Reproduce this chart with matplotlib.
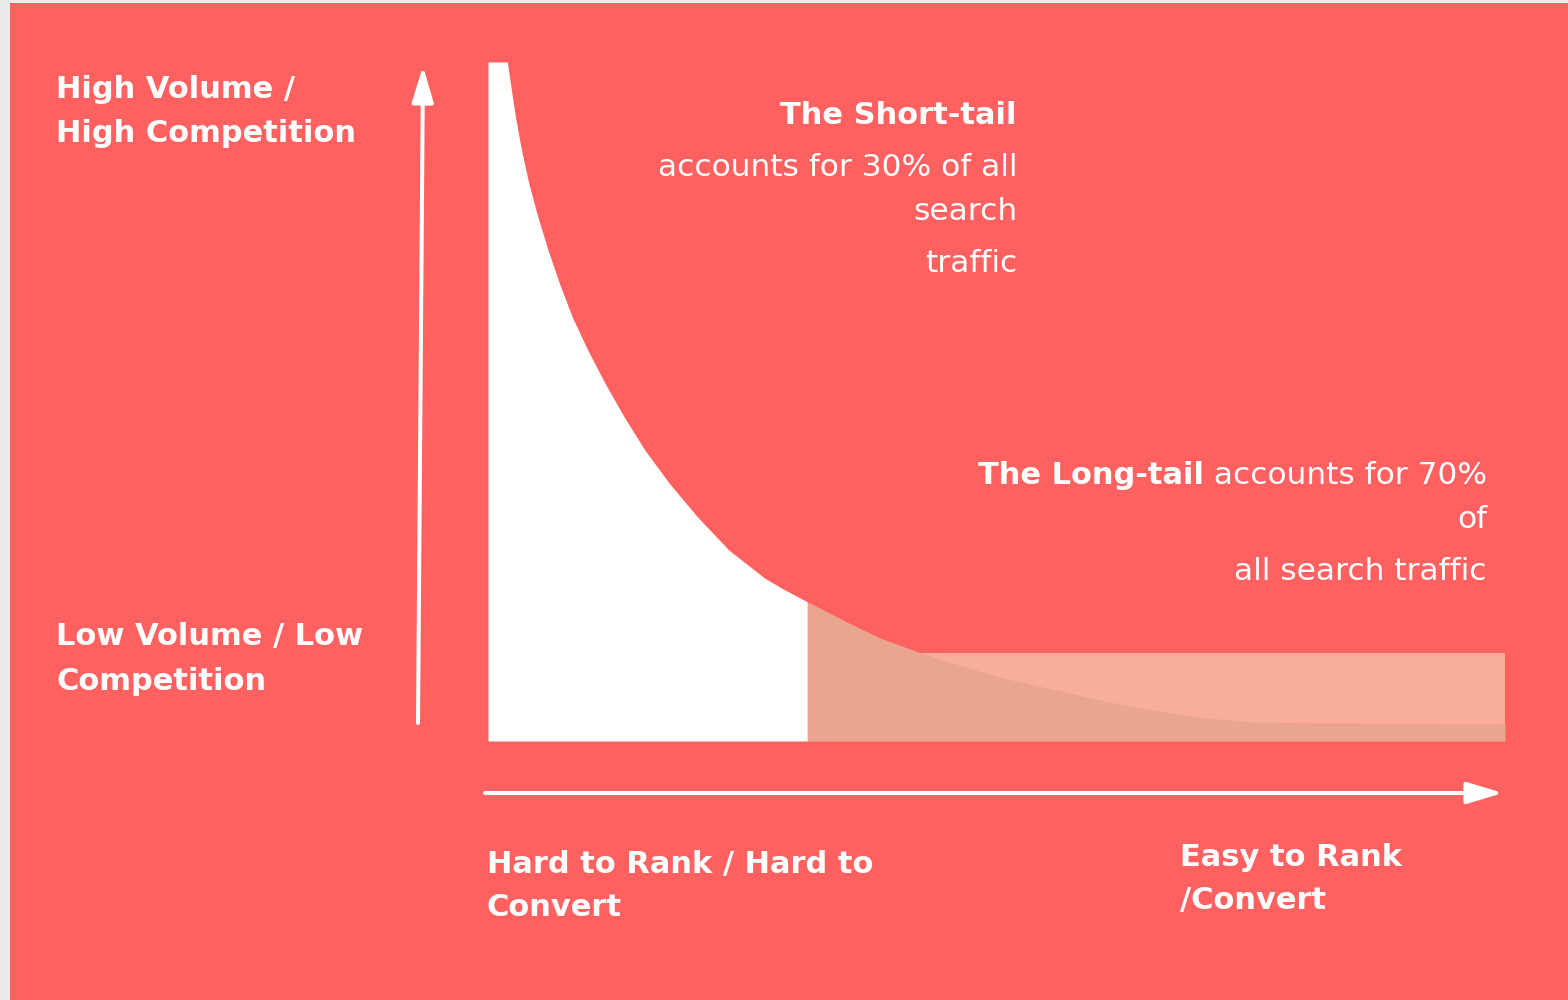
import numpy as np
import matplotlib.pyplot as plt
from matplotlib.patches import Rectangle, FancyArrowPatch

# keyword rank (0 = head, 100 = far tail) vs search volume (0..100)
rank = [0, 1.9, 2.2, 2.7, 3.3, 4.0, 4.9, 5.9, 7.0, 8.3, 9.8, 11.5, 13.4, 15.4,
        17.8, 20.6, 23.7, 27.2, 29.0, 31.4, 35.3, 38.5, 42.5, 45.4, 50.3, 55.3, 60.2,
        65.1, 70.0, 74.9, 79.8, 100]
volume = [100, 100, 96.9, 91.9, 87.0, 82.2, 77.2, 72.3, 67.5, 62.4, 57.6, 52.7, 47.7, 42.9,
          38.0, 33.0, 28.1, 24.0, 22.4, 20.5, 17.5, 15.2, 13.0, 11.6, 9.4, 7.7, 6.0,
          4.6, 3.5, 2.8, 2.7, 2.5]
short_tail_end = 31.4
band_start = 42.5
band_height = 13.0

coral = '#FF6161'
band_light = '#F8AE9A'
tail_fill = '#EAA590'

plt.rcParams['font.family'] = ['DejaVu Sans']

fig = plt.figure(figsize=(15.68, 10), dpi=100, facecolor='#EBEBEB')

# background panel
bg = fig.add_axes([10 / 1568, 0, 1, 997 / 1000])
bg.set_facecolor(coral)
bg.set_xticks([])
bg.set_yticks([])
for s in bg.spines.values():
    s.set_visible(False)

# chart area
ax = fig.add_axes([488 / 1568, 259 / 1000, 1017 / 1568, 679 / 1000])
ax.set_xlim(0, 100)
ax.set_ylim(0, 100)
ax.axis('off')

x = np.array(rank)
y = np.array(volume)
head = x <= short_tail_end
tail = x >= short_tail_end
ax.fill_between(x[head], 0, y[head], color='white', lw=0)
ax.add_patch(Rectangle((band_start, 0), 100 - band_start, band_height, color=band_light, lw=0))
ax.fill_between(x[tail], 0, y[tail], color=tail_fill, lw=0)


def px(xp, yp):
    return xp / 1568, 1 - yp / 1000


# axis arrows
arrow = dict(arrowstyle='-|>,head_length=1.1,head_width=0.33', color='white', lw=2.9,
             mutation_scale=20, shrinkA=0, shrinkB=0, transform=fig.transFigure)
fig.add_artist(FancyArrowPatch(px(418, 723), px(423, 66), **arrow))
fig.add_artist(FancyArrowPatch(px(485, 793), px(1503, 793), **arrow))

bold = dict(color='white', fontsize=22, fontweight='bold', va='center')
reg = dict(color='white', fontsize=22.5, va='center')

fig.text(*px(56, 90), 'High Volume /', ha='left', **bold)
fig.text(*px(56, 133), 'High Competition', ha='left', **bold)
fig.text(*px(56, 637), 'Low Volume / Low', ha='left', **bold)
fig.text(*px(56, 681), 'Competition', ha='left', **bold)

fig.text(*px(1017, 116), 'The Short-tail', ha='right', **bold)
fig.text(*px(1017, 168), 'accounts for 30% of all', ha='right', **reg)
fig.text(*px(1017, 212), 'search', ha='right', **reg)
fig.text(*px(1017, 263), 'traffic', ha='right', **reg)

t = fig.text(*px(1487, 476), ' accounts for 70%', ha='right', **reg)
ax.annotate('The Long-tail', xy=(0, 0.5), xycoords=t, ha='right', va='center',
            color='white', fontsize=22, fontweight='bold')
fig.text(*px(1487, 519), 'of', ha='right', **reg)
fig.text(*px(1487, 572), 'all search traffic', ha='right', **reg)

fig.text(*px(487, 864), 'Hard to Rank / Hard to', ha='left', **bold)
fig.text(*px(487, 907), 'Convert', ha='left', **bold)
fig.text(*px(1180, 858), 'Easy to Rank', ha='left', **bold)
fig.text(*px(1180, 901), '/Convert', ha='left', **bold)

fig.savefig('out.png', dpi=100, facecolor=fig.get_facecolor())
